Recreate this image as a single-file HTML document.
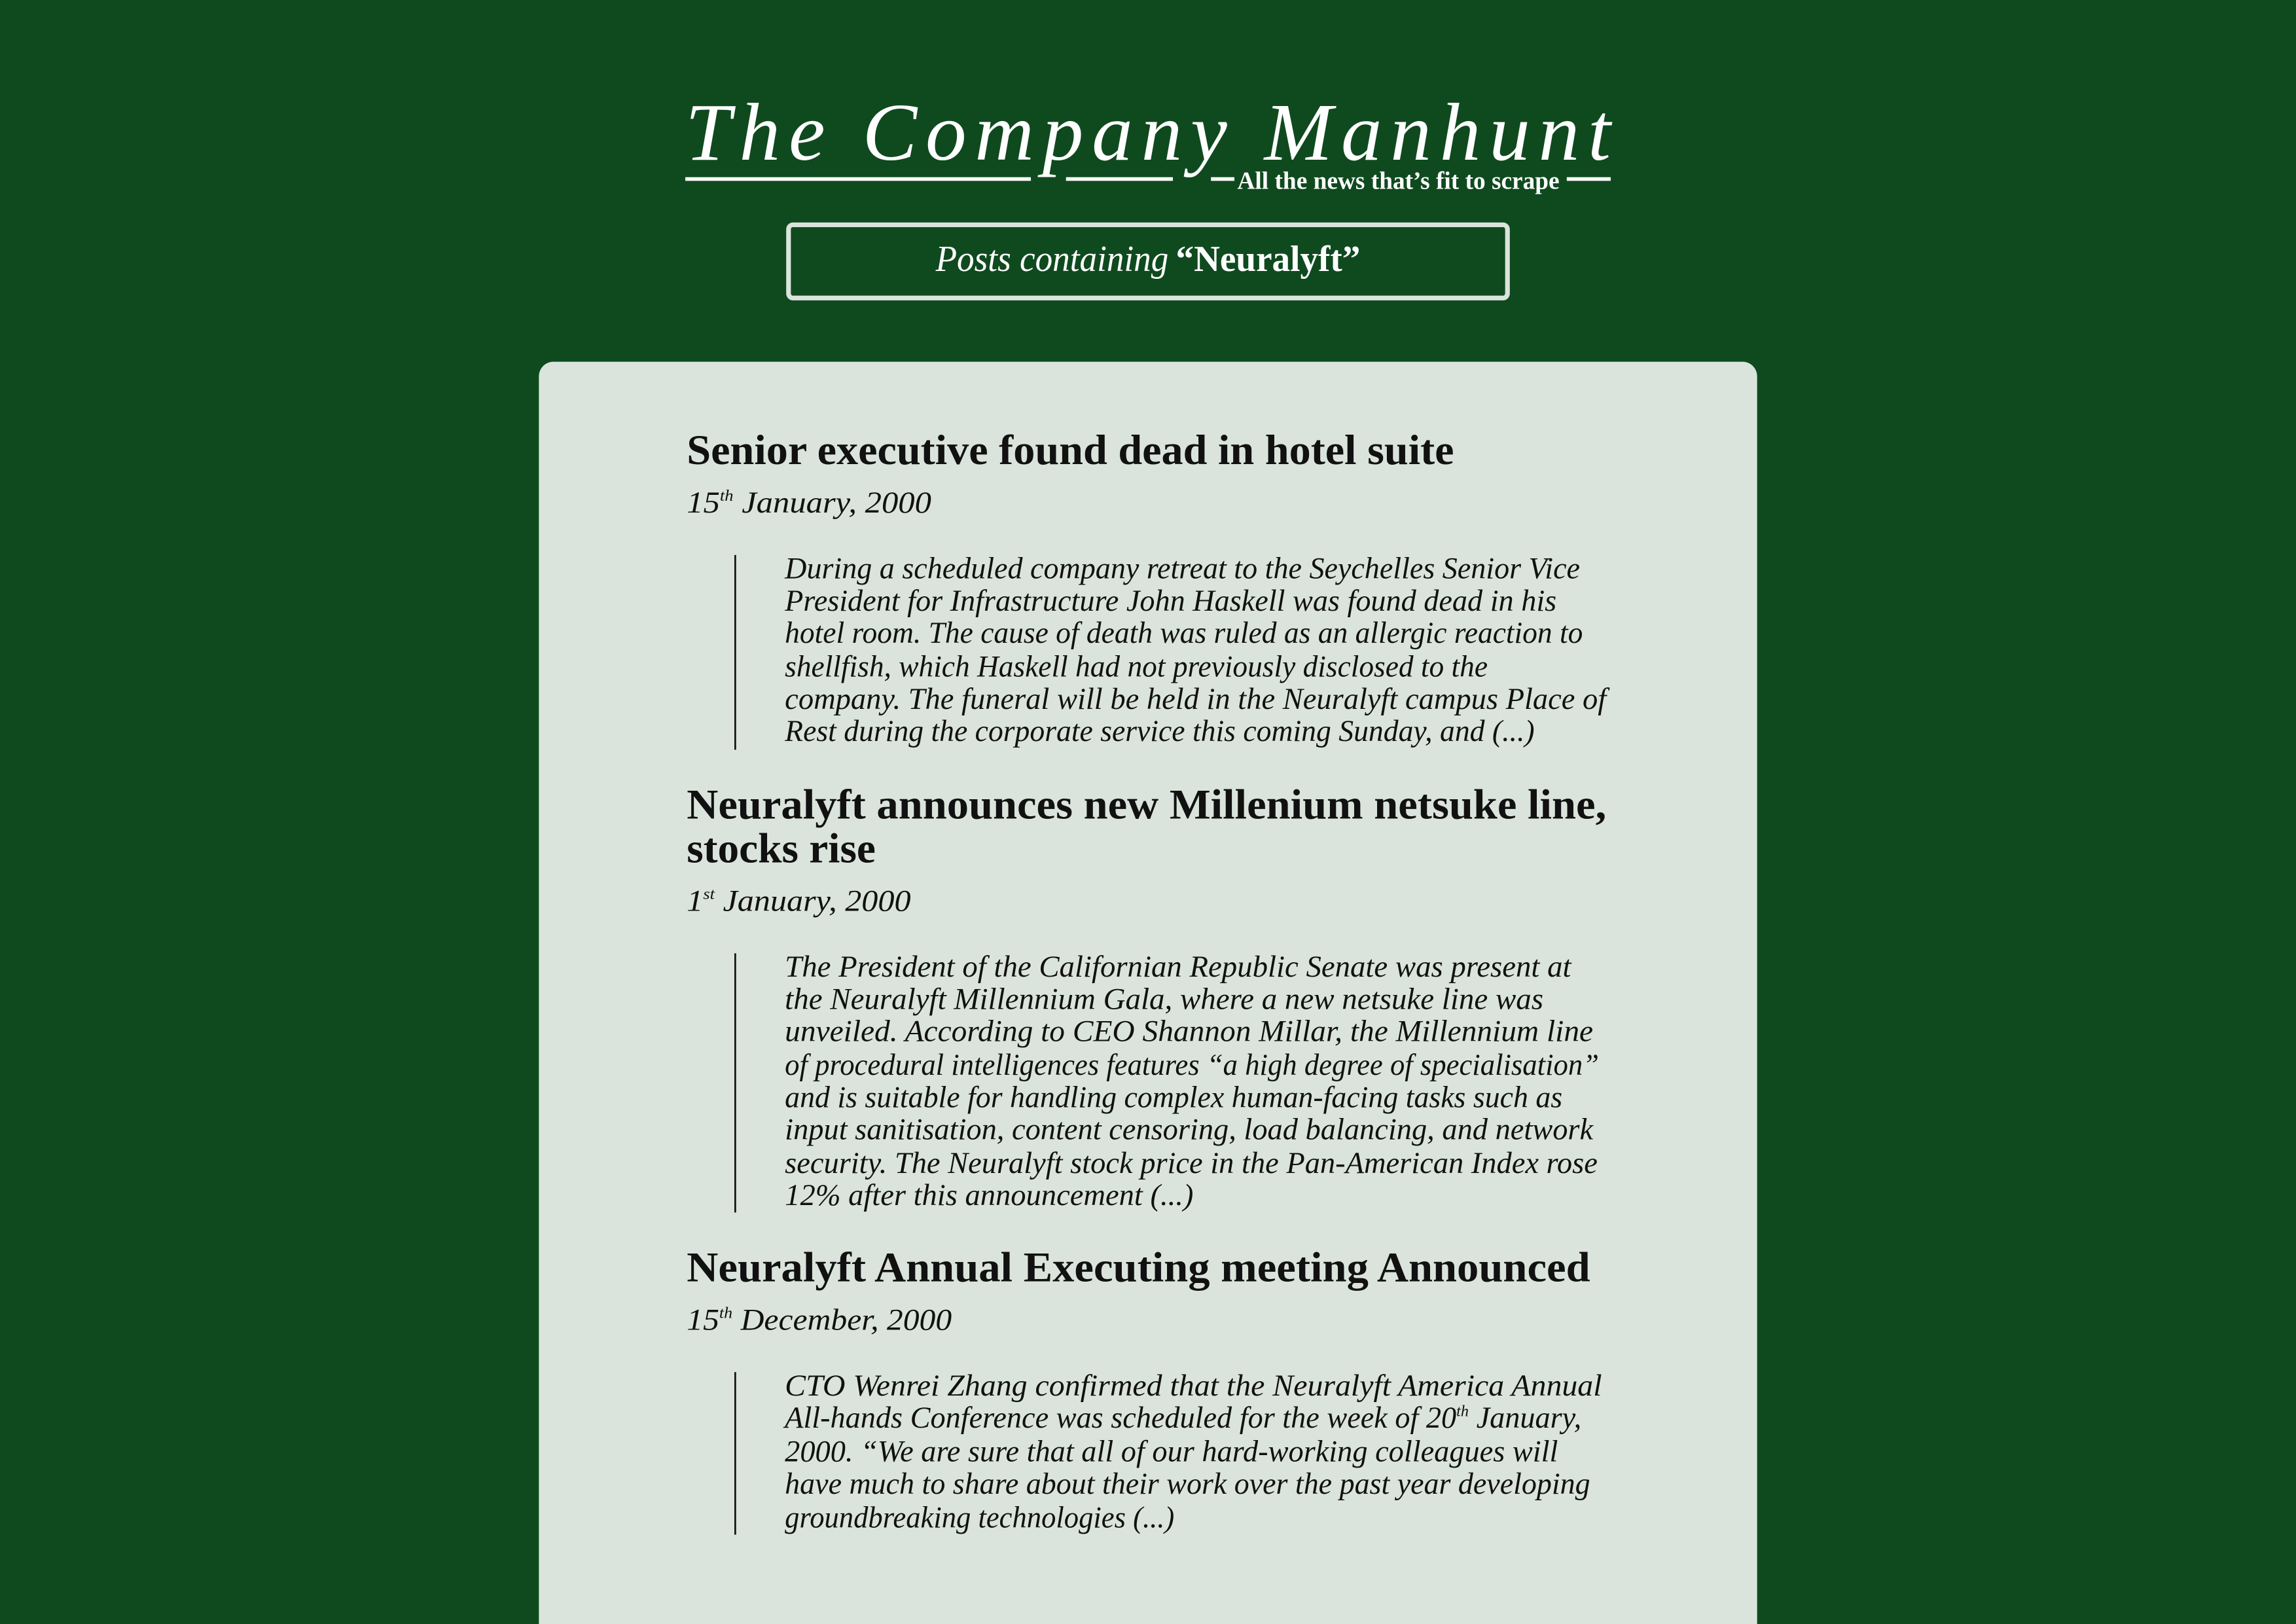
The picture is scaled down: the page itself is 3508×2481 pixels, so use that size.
<!DOCTYPE html>
<html><head><meta charset="utf-8"><style>
html,body{margin:0;padding:0;background:#0f4a1f;}
svg{display:block;}
.t{font-family:"Liberation Serif",serif;}
</style></head><body>
<svg width="3508" height="2481" viewBox="0 0 1568 1109" xmlns="http://www.w3.org/2000/svg">
<rect x="0" y="0" width="1568" height="1109" fill="#0f4a1f"/>
<g fill="#ffffff">
<text class="t" x="468" y="109" font-size="56" font-style="italic" textLength="632" lengthAdjust="spacing">The Company Manhunt</text>
<rect x="468" y="121" width="236" height="2.5"/>
<rect x="728" y="121" width="73" height="2.5"/>
<rect x="827" y="121" width="16" height="2.5"/>
<rect x="1070" y="121" width="30" height="2.5"/>
<text class="t" x="845" y="129" font-size="17" font-weight="bold" textLength="220" lengthAdjust="spacingAndGlyphs">All the news that’s fit to scrape</text>
</g>
<g>
<rect x="538.5" y="153.5" width="491" height="50" rx="3" fill="none" stroke="#dbe4dc" stroke-width="3.2"/>
<text class="t" x="639" y="185" font-size="25" font-style="italic" fill="#fff" textLength="159" lengthAdjust="spacingAndGlyphs">Posts containing</text>
<text class="t" x="803" y="185" font-size="25" font-weight="bold" fill="#fff" textLength="126" lengthAdjust="spacingAndGlyphs">“Neuralyft”</text>
</g>
<rect x="368" y="247" width="832" height="900" rx="10" fill="#dae4dc"/>
<g class="t" fill="#111">
<text x="469" y="317" font-size="29" font-weight="bold" textLength="524" lengthAdjust="spacingAndGlyphs">Senior executive found dead in hotel suite</text>
<text x="469" y="350" font-size="21" font-style="italic" textLength="167" lengthAdjust="spacingAndGlyphs">15<tspan font-size="11" dy="-8">th</tspan><tspan dy="8"> January, 2000</tspan></text>
<rect x="501.5" y="379" width="1.2" height="133" fill="#111"/>
<g font-size="21" font-style="italic">
<text x="536" y="395" textLength="543" lengthAdjust="spacingAndGlyphs">During a scheduled company retreat to the Seychelles Senior Vice</text>
<text x="536" y="417" textLength="527" lengthAdjust="spacingAndGlyphs">President for Infrastructure John Haskell was found dead in his</text>
<text x="536" y="439" textLength="545" lengthAdjust="spacingAndGlyphs">hotel room. The cause of death was ruled as an allergic reaction to</text>
<text x="536" y="462" textLength="480" lengthAdjust="spacingAndGlyphs">shellfish, which Haskell had not previously disclosed to the</text>
<text x="536" y="484" textLength="561" lengthAdjust="spacingAndGlyphs">company. The funeral will be held in the Neuralyft campus Place of</text>
<text x="536" y="506" textLength="512" lengthAdjust="spacingAndGlyphs">Rest during the corporate service this coming Sunday, and (...)</text>
</g>
</g>
<g class="t" fill="#111">
<text x="469" y="559" font-size="29" font-weight="bold" textLength="628" lengthAdjust="spacingAndGlyphs">Neuralyft announces new Millenium netsuke line,</text>
<text x="469" y="589" font-size="29" font-weight="bold" textLength="129" lengthAdjust="spacingAndGlyphs">stocks rise</text>
<text x="469" y="622" font-size="21" font-style="italic" textLength="153" lengthAdjust="spacingAndGlyphs">1<tspan font-size="11" dy="-8">st</tspan><tspan dy="8"> January, 2000</tspan></text>
<rect x="501.5" y="651" width="1.2" height="177" fill="#111"/>
<g font-size="21" font-style="italic">
<text x="536" y="667" textLength="537" lengthAdjust="spacingAndGlyphs">The President of the Californian Republic Senate was present at</text>
<text x="536" y="689" textLength="518" lengthAdjust="spacingAndGlyphs">the Neuralyft Millennium Gala, where a new netsuke line was</text>
<text x="536" y="711" textLength="552" lengthAdjust="spacingAndGlyphs">unveiled. According to CEO Shannon Millar, the Millennium line</text>
<text x="536" y="734" textLength="556" lengthAdjust="spacingAndGlyphs">of procedural intelligences features “a high degree of specialisation”</text>
<text x="536" y="756" textLength="531" lengthAdjust="spacingAndGlyphs">and is suitable for handling complex human-facing tasks such as</text>
<text x="536" y="778" textLength="552" lengthAdjust="spacingAndGlyphs">input sanitisation, content censoring, load balancing, and network</text>
<text x="536" y="801" textLength="555" lengthAdjust="spacingAndGlyphs">security. The Neuralyft stock price in the Pan-American Index rose</text>
<text x="536" y="823" textLength="279" lengthAdjust="spacingAndGlyphs">12% after this announcement (...)</text>
</g>
</g>
<g class="t" fill="#111">
<text x="469" y="875" font-size="29" font-weight="bold" textLength="617" lengthAdjust="spacingAndGlyphs">Neuralyft Annual Executing meeting Announced</text>
<text x="469" y="908" font-size="21" font-style="italic" textLength="181" lengthAdjust="spacingAndGlyphs">15<tspan font-size="11" dy="-8">th</tspan><tspan dy="8"> December, 2000</tspan></text>
<rect x="501.5" y="937" width="1.2" height="111" fill="#111"/>
<g font-size="21" font-style="italic">
<text x="536" y="953" textLength="558" lengthAdjust="spacingAndGlyphs">CTO Wenrei Zhang confirmed that the Neuralyft America Annual</text>
<text x="536" y="975" textLength="544" lengthAdjust="spacingAndGlyphs">All-hands Conference was scheduled for the week of 20<tspan font-size="11" dy="-8">th</tspan><tspan dy="8"> January,</tspan></text>
<text x="536" y="998" textLength="528" lengthAdjust="spacingAndGlyphs">2000. “We are sure that all of our hard-working colleagues will</text>
<text x="536" y="1020" textLength="550" lengthAdjust="spacingAndGlyphs">have much to share about their work over the past year developing</text>
<text x="536" y="1043" textLength="266" lengthAdjust="spacingAndGlyphs">groundbreaking technologies (...)</text>
</g>
</g>
</svg>
</body></html>
